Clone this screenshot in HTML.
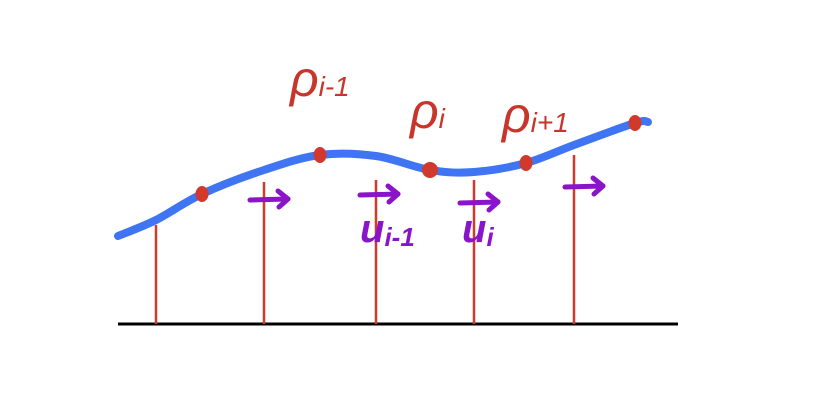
<!DOCTYPE html>
<html>
<head>
<meta charset="utf-8">
<style>
  html,body{margin:0;padding:0;background:#fff;}
  svg{display:block;}
  .lbl{font-family:"Liberation Sans",sans-serif;font-style:italic;}
</style>
</head>
<body>
<svg id="chart" width="820" height="403" viewBox="0 0 820 403"></svg>
<script>
// Data: curve samples (x position in data units, curve height)
const curveX = [0, 38, 84, 146, 202, 258, 312, 356, 408, 456, 517, 530];
const curveY = [88, 104, 130, 154, 169, 168, 154, 152, 161, 179, 201, 202];
// Sample points on curve (red dots)
const dotX = [84, 202, 312, 408, 517];
const dotY = [130, 169, 154, 161, 201];
// Vertical red line positions and their top heights
const stemX = [38, 146, 258, 356, 456];
const stemTop = [99, 142, 144, 144, 169];
// Arrow labels
const arrowX = [132, 242, 342, 447];
const arrowY = [124, 129, 121, 137];
const pointLabels = ["ρ", "ρ", "ρ"];
const pointSubs = ["i-1", "i", "i+1"];
const pointLabelX = [172, 292, 384];
const pointLabelY = [228, 196, 192];
const vecLabels = ["u", "u"];
const vecSubs = ["i-1", "i"];
const vecLabelX = [242, 344];
const vecLabelY = [82, 82];

const svg = document.getElementById('chart');
const NS = 'http://www.w3.org/2000/svg';
const x0 = 118, base = 324;
function sx(v){ return x0 + v; }
function sy(v){ return base - v; }
function mk(tag, attrs, parent){
  const e = document.createElementNS(NS, tag);
  for (const k in attrs) e.setAttribute(k, attrs[k]);
  (parent || svg).appendChild(e);
  return e;
}

// baseline
const bl = mk('line', {x1: 118, y1: base, x2: 678, y2: base, stroke: '#000', 'stroke-width': 3});



// stems
stemX.forEach((v, i) => {
  const l = mk('line', {x1: sx(v), y1: sy(stemTop[i]), x2: sx(v), y2: base, stroke: '#d0392b', 'stroke-width': 2.5});
  
  
});

// curve (smooth Catmull-Rom)
let pts = curveX.map((v, i) => [sx(v), sy(curveY[i])]);
let d = 'M' + pts[0][0] + ',' + pts[0][1];
for (let i = 0; i < pts.length - 1; i++) {
  const p0 = pts[Math.max(0, i - 1)], p1 = pts[i], p2 = pts[i + 1], p3 = pts[Math.min(pts.length - 1, i + 2)];
  const c1 = [p1[0] + (p2[0] - p0[0]) / 6, p1[1] + (p2[1] - p0[1]) / 6];
  const c2 = [p2[0] - (p3[0] - p1[0]) / 6, p2[1] - (p3[1] - p1[1]) / 6];
  d += ` C${c1[0]},${c1[1]} ${c2[0]},${c2[1]} ${p2[0]},${p2[1]}`;
}
const curve = mk('path', {d: d, fill: 'none', stroke: '#3f74f2', 'stroke-width': 8, 'stroke-linecap': 'round'});



// dots
dotX.forEach((v, i) => {
  const c = mk('ellipse', {cx: sx(v), cy: sy(dotY[i]), rx: i === 2 ? 8 : 6.5, ry: 8, fill: '#d0392b'});
  
  
});

// arrows
arrowX.forEach((v, i) => {
  const g = mk('g', {stroke: '#8a14c8', 'stroke-width': 5, fill: 'none', 'stroke-linecap': 'round', 'stroke-linejoin': 'round'});
  
  
  const ax = sx(v), ay = sy(arrowY[i]);
  mk('path', {d: `M${ax},${ay} L${ax + 38},${ay - 1}`}, g);
  mk('path', {d: `M${ax + 28},${ay - 9} L${ax + 38},${ay - 1} L${ax + 29},${ay + 7}`}, g);
});

// point labels
pointLabels.forEach((t, i) => {
  const tx = mk('text', {x: sx(pointLabelX[i]), y: sy(pointLabelY[i]), fill: '#c8352a', 'font-size': 50, class: 'lbl'});
  
  
  tx.textContent = t;
  const s = mk('tspan', {'font-size': 28, dx: 0}, tx);
  s.textContent = pointSubs[i];
});

// vector labels
vecLabels.forEach((t, i) => {
  const tx = mk('text', {x: sx(vecLabelX[i]), y: sy(vecLabelY[i]), fill: '#8a14c8', 'font-size': 40, 'font-weight': 'bold', class: 'lbl'});
  
  
  tx.textContent = t;
  const s = mk('tspan', {'font-size': 26, dy: 4}, tx);
  s.textContent = vecSubs[i];
});
</script>
</body>
</html>
